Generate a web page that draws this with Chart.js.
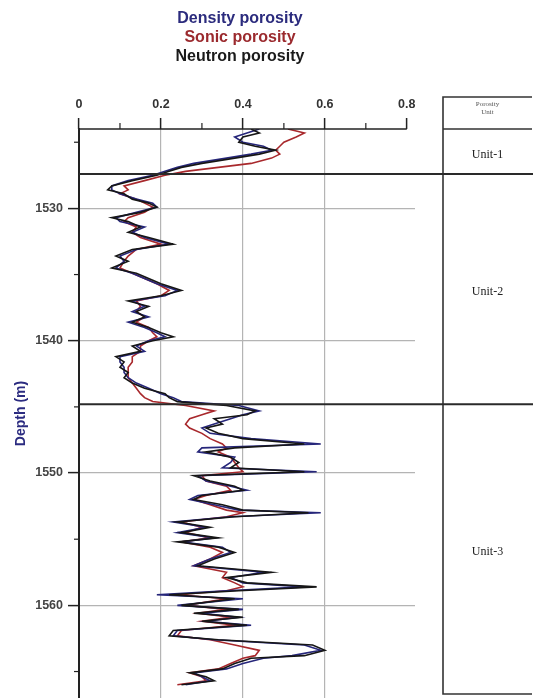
<!DOCTYPE html>
<html>
<head>
<meta charset="utf-8">
<title>Porosity logs</title>
<script src="https://cdn.jsdelivr.net/npm/chart.js@4.4.1/dist/chart.umd.min.js"></script>
<style>
  body { margin: 0; background: #fff; }
  #wrap { position: relative; width: 533px; height: 698px; }
  #legend {
    position: absolute; top: 8px; left: 140px; width: 200px;
    text-align: center; font: bold 16px Arial, "Liberation Sans", sans-serif; line-height: 19px;
  }
</style>
</head>
<body>
<div id="wrap">
  <canvas id="chart"></canvas>
  <div id="legend">
    <div style="color:#2b2b7d">Density porosity</div>
    <div style="color:#9b2a2e">Sonic porosity</div>
    <div style="color:#1a1a1a">Neutron porosity</div>
  </div>
</div>
<script>
// depth (m) samples
const depth = [
  1524.0, 1524.3, 1524.6, 1525.0, 1525.3, 1525.6, 1525.9, 1526.2, 1526.6, 1526.9,
  1527.2, 1527.5, 1527.9, 1528.3, 1528.6, 1528.9, 1529.3, 1529.6, 1529.9, 1530.3,
  1530.7, 1531.0, 1531.4, 1531.8, 1532.2, 1532.7, 1533.1, 1533.6, 1534.0, 1534.5,
  1534.9, 1535.3, 1535.7, 1536.2, 1536.6, 1537.0, 1537.4, 1537.8, 1538.2, 1538.6,
  1539.0, 1539.4, 1539.7, 1540.0, 1540.4, 1540.8, 1541.2, 1541.6, 1542.0, 1542.4,
  1542.8, 1543.2, 1543.6, 1544.0, 1544.3, 1544.6, 1544.9, 1545.3, 1545.6, 1545.9,
  1546.3, 1546.6, 1547.0, 1547.4, 1547.8, 1548.1, 1548.4, 1548.8, 1549.2, 1549.6,
  1549.9, 1550.2, 1550.6, 1551.0, 1551.3, 1551.7, 1552.0, 1552.4, 1552.8, 1553.0,
  1553.3, 1553.7, 1554.1, 1554.5, 1554.9, 1555.2, 1555.6, 1556.0, 1556.5, 1557.0,
  1557.5, 1557.9, 1558.3, 1558.6, 1558.9, 1559.2, 1559.5, 1560.0, 1560.3, 1560.6,
  1560.9, 1561.2, 1561.5, 1561.9, 1562.3, 1562.6, 1563.0, 1563.4, 1563.8, 1564.0,
  1564.4, 1564.8, 1565.1, 1565.4, 1565.7, 1566.0
];
const neutron = [
  0.42, 0.44, 0.40, 0.39, 0.43, 0.48, 0.44, 0.38, 0.30, 0.25,
  0.22, 0.19, 0.13, 0.08, 0.07, 0.11, 0.13, 0.17, 0.19, 0.15,
  0.08, 0.12, 0.15, 0.12, 0.17, 0.23, 0.13, 0.09, 0.12, 0.08,
  0.14, 0.17, 0.20, 0.25, 0.20, 0.12, 0.17, 0.14, 0.16, 0.13,
  0.17, 0.20, 0.23, 0.18, 0.13, 0.15, 0.09, 0.11, 0.10, 0.12,
  0.11, 0.13, 0.16, 0.21, 0.22, 0.24, 0.36, 0.43, 0.41, 0.33,
  0.35, 0.31, 0.34, 0.40, 0.55, 0.38, 0.31, 0.37, 0.39, 0.37,
  0.55, 0.28, 0.32, 0.38, 0.40, 0.30, 0.28, 0.35, 0.40, 0.56,
  0.38, 0.24, 0.32, 0.25, 0.34, 0.24, 0.34, 0.38, 0.33, 0.29,
  0.47, 0.36, 0.41, 0.58, 0.39, 0.22, 0.38, 0.25, 0.39, 0.28,
  0.40, 0.30, 0.41, 0.23, 0.22, 0.34, 0.57, 0.60, 0.55, 0.42,
  0.38, 0.35, 0.27, 0.31, 0.33, 0.25
];
const density = [
  0.44, 0.41, 0.38, 0.40, 0.45, 0.47, 0.42, 0.36, 0.28, 0.24,
  0.21, 0.18, 0.12, 0.08, 0.08, 0.10, 0.14, 0.18, 0.19, 0.14,
  0.09, 0.10, 0.16, 0.13, 0.16, 0.22, 0.14, 0.10, 0.11, 0.09,
  0.13, 0.16, 0.19, 0.24, 0.21, 0.13, 0.16, 0.13, 0.17, 0.12,
  0.16, 0.19, 0.21, 0.17, 0.14, 0.16, 0.10, 0.10, 0.11, 0.11,
  0.12, 0.14, 0.17, 0.20, 0.23, 0.25, 0.39, 0.44, 0.40, 0.37,
  0.33, 0.30, 0.32, 0.42, 0.59, 0.30, 0.29, 0.38, 0.37, 0.35,
  0.58, 0.29, 0.31, 0.37, 0.41, 0.29, 0.27, 0.33, 0.39, 0.59,
  0.37, 0.23, 0.31, 0.24, 0.33, 0.25, 0.35, 0.37, 0.32, 0.28,
  0.45, 0.37, 0.40, 0.55, 0.36, 0.19, 0.40, 0.24, 0.40, 0.30,
  0.39, 0.31, 0.42, 0.24, 0.23, 0.33, 0.55, 0.59, 0.52, 0.45,
  0.40, 0.36, 0.28, 0.30, 0.32, 0.26
];
const sonic = [
  0.51, 0.55, 0.53, 0.50, 0.49, 0.48, 0.49, 0.47, 0.42, 0.34,
  0.26, 0.21, 0.16, 0.11, 0.12, 0.10, 0.14, 0.16, 0.18, 0.16,
  0.12, 0.11, 0.14, 0.13, 0.15, 0.20, 0.14, 0.12, 0.11, 0.10,
  0.13, 0.16, 0.19, 0.22, 0.20, 0.14, 0.15, 0.14, 0.16, 0.14,
  0.17, 0.18, 0.19, 0.17, 0.15, 0.15, 0.13, 0.13, 0.12, 0.12,
  0.12, 0.13, 0.14, 0.15, 0.16, 0.18, 0.26, 0.33, 0.30, 0.27,
  0.26, 0.27, 0.30, 0.32, 0.35, 0.36, 0.34, 0.37, 0.38, 0.39,
  0.40, 0.30, 0.31, 0.36, 0.37, 0.31, 0.28, 0.32, 0.36, 0.40,
  0.36, 0.25, 0.30, 0.26, 0.32, 0.25, 0.32, 0.35, 0.32, 0.28,
  0.36, 0.35, 0.38, 0.40, 0.36, 0.24, 0.36, 0.26, 0.36, 0.29,
  0.37, 0.30, 0.38, 0.25, 0.24, 0.32, 0.38, 0.44, 0.43, 0.40,
  0.37, 0.34, 0.27, 0.30, 0.31, 0.24
];

// axis ticks
const xTicks = [0, 0.2, 0.4, 0.6, 0.8];
const xMinor = [0.1, 0.3, 0.5, 0.7];
const yTicks = [1530, 1540, 1550, 1560];
const yMinor = [1525, 1535, 1545, 1555, 1565];

// porosity units: top boundaries and names
const unitNames = ['Unit-1', 'Unit-2', 'Unit-3'];
const unitTops = [1524, 1527.4, 1544.8];

const toPoints = vals => vals.map((v, i) => ({ x: v, y: depth[i] }));

// extra log-track decoration: minor ticks, unit lines, unit column
const wellLogDecor = {
  id: 'wellLogDecor',
  afterDatasetsDraw(chart) {
    const { ctx, chartArea: ca, scales: { x, y } } = chart;
    ctx.save();
    ctx.strokeStyle = '#222';

    // top axis line, 0 .. 0.8 only
    ctx.lineWidth = 1.5;
    ctx.beginPath();
    ctx.moveTo(x.getPixelForValue(0), ca.top);
    ctx.lineTo(x.getPixelForValue(0.8), ca.top);
    ctx.stroke();

    ctx.lineWidth = 1.2;
    xMinor.forEach(v => {
      const px = x.getPixelForValue(v);
      ctx.beginPath(); ctx.moveTo(px, ca.top); ctx.lineTo(px, ca.top - 6); ctx.stroke();
    });
    yMinor.forEach(v => {
      const py = y.getPixelForValue(v);
      ctx.beginPath(); ctx.moveTo(ca.left, py); ctx.lineTo(ca.left - 5, py); ctx.stroke();
    });

    // unit column
    const pl = ca.right + 28, pr = chart.width - 1, pt = 97, pb = y.bottom - 4;
    ctx.lineWidth = 1.6;
    ctx.strokeStyle = '#333';
    ctx.beginPath();
    ctx.moveTo(pr, pt); ctx.lineTo(pl, pt); ctx.lineTo(pl, pb); ctx.lineTo(pr, pb);
    ctx.moveTo(pl, ca.top); ctx.lineTo(pr, ca.top);
    ctx.stroke();

    // unit boundaries across the track
    ctx.lineWidth = 2;
    ctx.strokeStyle = '#2a2a2a';
    unitTops.slice(1).forEach(d => {
      const py = y.getPixelForValue(d);
      ctx.beginPath(); ctx.moveTo(ca.left, py); ctx.lineTo(chart.width, py); ctx.stroke();
    });

    const cx = (pl + pr) / 2;
    ctx.textAlign = 'center';
    ctx.textBaseline = 'middle';
    ctx.fillStyle = '#555';
    ctx.font = '7px "Times New Roman", "Liberation Serif", serif';
    ctx.fillText('Porosity', cx, 104);
    ctx.fillText('Unit', cx, 112);

    ctx.fillStyle = '#222';
    ctx.font = '12px "Times New Roman", "Liberation Serif", serif';
    unitNames.forEach((name, i) => {
      const top = y.getPixelForValue(unitTops[i]);
      const bot = i + 1 < unitTops.length ? y.getPixelForValue(unitTops[i + 1]) : pb;
      ctx.fillText(name, cx, (top + bot) / 2 + 3);
    });
    ctx.restore();
  }
};

const tickFont = { family: 'Arial, "Liberation Sans", sans-serif', size: 12.5, weight: 'bold' };

new Chart(document.getElementById('chart'), {
  type: 'scatter',
  data: {
    datasets: [
      { label: 'Neutron porosity', data: toPoints(neutron), borderColor: '#161616', order: 1 },
      { label: 'Density porosity', data: toPoints(density), borderColor: '#26267a', order: 2 },
      { label: 'Sonic porosity', data: toPoints(sonic), borderColor: '#a8282c', order: 3 }
    ].map(ds => Object.assign(ds, { showLine: true, pointRadius: 0, borderWidth: 1.6, tension: 0, fill: false }))
  },
  options: {
    responsive: true,
    maintainAspectRatio: false,
    animation: false,
    layout: { padding: { top: 0, left: 0, right: 118, bottom: 0 } },
    plugins: { legend: { display: false }, tooltip: { enabled: false } },
    scales: {
      x: {
        type: 'linear',
        position: 'top',
        min: 0,
        max: 0.82,
        afterBuildTicks: s => { s.ticks = xTicks.map(v => ({ value: v })); },
        afterFit: s => { s.height = 129; s.paddingLeft = 0; s.paddingRight = 0; },
        border: { display: false },
        grid: {
          color: c => (c.tick && c.tick.value > 0 && c.tick.value < 0.8) ? '#b4b4b4' : 'rgba(0,0,0,0)',
          lineWidth: 1.2,
          tickColor: '#222',
          tickLength: 11,
          tickWidth: 1.5
        },
        ticks: { font: tickFont, color: '#333', padding: 6, maxRotation: 0, callback: v => String(v) }
      },
      y: {
        type: 'linear',
        reverse: true,
        min: 1524,
        max: 1567,
        afterBuildTicks: s => { s.ticks = yTicks.map(v => ({ value: v })); },
        afterFit: s => { s.width = 79; s.paddingTop = 0; s.paddingBottom = 0; },
        border: { display: true, color: '#222', width: 2 },
        grid: { color: '#b4b4b4', lineWidth: 1.2, tickColor: '#222', tickLength: 11, tickWidth: 1.5 },
        ticks: { font: tickFont, color: '#444', padding: 5, callback: v => String(v) },
        title: {
          display: true,
          text: 'Depth (m)',
          color: '#2b2b80',
          font: { family: 'Arial, "Liberation Sans", sans-serif', size: 14, weight: 'bold' },
          padding: { top: 13, bottom: 0 }
        }
      }
    }
  },
  plugins: [wellLogDecor]
});
</script>
</body>
</html>
